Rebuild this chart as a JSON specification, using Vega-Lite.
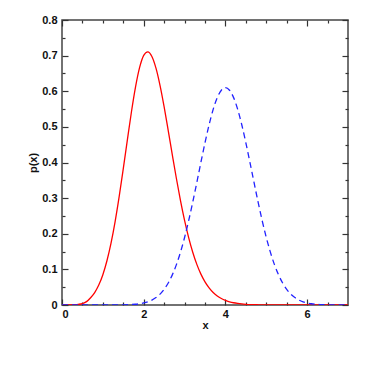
{
  "$schema": "https://vega.github.io/schema/vega-lite/v6.json",
  "width": 286,
  "height": 285,
  "autosize": "none",
  "padding": {"left": 62, "top": 20, "right": 19, "bottom": 62},
  "background": "white",
  "config": {
    "view": {"stroke": "#444", "strokeWidth": 1.5},
    "axis": {"domain": false, "grid": false, "labelFont": "Liberation Sans", "labelFontWeight": "bold", "labelFontSize": 11, "labelColor": "#111", "titleFont": "Liberation Sans", "titleFontWeight": "bold", "titleFontSize": 11, "titleColor": "#111", "tickColor": "#333", "tickWidth": 1.2}
  },
  "datasets": {
    "curves": [
      {"x": 0, "p": 0, "s": "a"}, {"x": 0.2, "p": 0.0002, "s": "a"}, {"x": 0.3, "p": 0.0007, "s": "a"}, {"x": 0.4, "p": 0.0018, "s": "a"}, {"x": 0.5, "p": 0.004, "s": "a"}, {"x": 0.6, "p": 0.0095, "s": "a"}, {"x": 0.7, "p": 0.0205, "s": "a"}, {"x": 0.8, "p": 0.035, "s": "a"}, {"x": 0.9, "p": 0.056, "s": "a"}, {"x": 1.0, "p": 0.085, "s": "a"}, {"x": 1.1, "p": 0.1242, "s": "a"}, {"x": 1.2, "p": 0.1736, "s": "a"}, {"x": 1.3, "p": 0.2341, "s": "a"}, {"x": 1.4, "p": 0.3047, "s": "a"}, {"x": 1.5, "p": 0.3827, "s": "a"}, {"x": 1.6, "p": 0.4637, "s": "a"}, {"x": 1.7, "p": 0.5424, "s": "a"}, {"x": 1.8, "p": 0.6122, "s": "a"}, {"x": 1.9, "p": 0.6668, "s": "a"}, {"x": 2.0, "p": 0.7009, "s": "a"}, {"x": 2.1, "p": 0.7108, "s": "a"}, {"x": 2.2, "p": 0.6977, "s": "a"}, {"x": 2.3, "p": 0.6648, "s": "a"}, {"x": 2.4, "p": 0.6159, "s": "a"}, {"x": 2.5, "p": 0.556, "s": "a"}, {"x": 2.6, "p": 0.4897, "s": "a"}, {"x": 2.7, "p": 0.4216, "s": "a"}, {"x": 2.8, "p": 0.3551, "s": "a"}, {"x": 2.9, "p": 0.2932, "s": "a"}, {"x": 3.0, "p": 0.2376, "s": "a"}, {"x": 3.1, "p": 0.1891, "s": "a"}, {"x": 3.2, "p": 0.148, "s": "a"}, {"x": 3.3, "p": 0.114, "s": "a"}, {"x": 3.4, "p": 0.0866, "s": "a"}, {"x": 3.5, "p": 0.0649, "s": "a"}, {"x": 3.6, "p": 0.0481, "s": "a"}, {"x": 3.7, "p": 0.0351, "s": "a"}, {"x": 3.8, "p": 0.0254, "s": "a"}, {"x": 3.9, "p": 0.0182, "s": "a"}, {"x": 4.0, "p": 0.0129, "s": "a"}, {"x": 4.1, "p": 0.0091, "s": "a"}, {"x": 4.2, "p": 0.0063, "s": "a"}, {"x": 4.3, "p": 0.0044, "s": "a"}, {"x": 4.4, "p": 0.003, "s": "a"}, {"x": 4.5, "p": 0.002, "s": "a"}, {"x": 4.6, "p": 0.0013, "s": "a"}, {"x": 4.7, "p": 0.0009, "s": "a"}, {"x": 4.8, "p": 0.0006, "s": "a"}, {"x": 4.9, "p": 0.0004, "s": "a"}, {"x": 5.0, "p": 0.0002, "s": "a"}, {"x": 5.2, "p": 0.0001, "s": "a"}, {"x": 5.4, "p": 0, "s": "a"}, {"x": 7.0, "p": 0, "s": "a"},
      {"x": 0, "p": 0, "s": "b"}, {"x": 1.0, "p": 0, "s": "b"}, {"x": 1.2, "p": 0.0001, "s": "b"}, {"x": 1.4, "p": 0.0002, "s": "b"}, {"x": 1.5, "p": 0.0004, "s": "b"}, {"x": 1.6, "p": 0.0007, "s": "b"}, {"x": 1.7, "p": 0.0013, "s": "b"}, {"x": 1.8, "p": 0.0021, "s": "b"}, {"x": 1.9, "p": 0.0035, "s": "b"}, {"x": 2.0, "p": 0.0057, "s": "b"}, {"x": 2.1, "p": 0.009, "s": "b"}, {"x": 2.2, "p": 0.0138, "s": "b"}, {"x": 2.3, "p": 0.0208, "s": "b"}, {"x": 2.4, "p": 0.0306, "s": "b"}, {"x": 2.5, "p": 0.044, "s": "b"}, {"x": 2.6, "p": 0.0617, "s": "b"}, {"x": 2.7, "p": 0.0846, "s": "b"}, {"x": 2.8, "p": 0.1133, "s": "b"}, {"x": 2.9, "p": 0.1483, "s": "b"}, {"x": 3.0, "p": 0.1895, "s": "b"}, {"x": 3.1, "p": 0.2366, "s": "b"}, {"x": 3.2, "p": 0.2887, "s": "b"}, {"x": 3.3, "p": 0.344, "s": "b"}, {"x": 3.4, "p": 0.4005, "s": "b"}, {"x": 3.5, "p": 0.4554, "s": "b"}, {"x": 3.6, "p": 0.5059, "s": "b"}, {"x": 3.7, "p": 0.5491, "s": "b"}, {"x": 3.8, "p": 0.5821, "s": "b"}, {"x": 3.9, "p": 0.6029, "s": "b"}, {"x": 4.0, "p": 0.61, "s": "b"}, {"x": 4.1, "p": 0.6029, "s": "b"}, {"x": 4.2, "p": 0.5821, "s": "b"}, {"x": 4.3, "p": 0.5491, "s": "b"}, {"x": 4.4, "p": 0.5059, "s": "b"}, {"x": 4.5, "p": 0.4554, "s": "b"}, {"x": 4.6, "p": 0.4005, "s": "b"}, {"x": 4.7, "p": 0.344, "s": "b"}, {"x": 4.8, "p": 0.2887, "s": "b"}, {"x": 4.9, "p": 0.2366, "s": "b"}, {"x": 5.0, "p": 0.1895, "s": "b"}, {"x": 5.1, "p": 0.1483, "s": "b"}, {"x": 5.2, "p": 0.1133, "s": "b"}, {"x": 5.3, "p": 0.0846, "s": "b"}, {"x": 5.4, "p": 0.0617, "s": "b"}, {"x": 5.5, "p": 0.044, "s": "b"}, {"x": 5.6, "p": 0.0306, "s": "b"}, {"x": 5.7, "p": 0.0208, "s": "b"}, {"x": 5.8, "p": 0.0138, "s": "b"}, {"x": 5.9, "p": 0.009, "s": "b"}, {"x": 6.0, "p": 0.0057, "s": "b"}, {"x": 6.1, "p": 0.0035, "s": "b"}, {"x": 6.2, "p": 0.0021, "s": "b"}, {"x": 6.3, "p": 0.0013, "s": "b"}, {"x": 6.4, "p": 0.0007, "s": "b"}, {"x": 6.5, "p": 0.0004, "s": "b"}, {"x": 6.6, "p": 0.0002, "s": "b"}, {"x": 6.8, "p": 0.0001, "s": "b"}, {"x": 7.0, "p": 0, "s": "b"}
    ]
  },
  "data": {"name": "curves"},
  "resolve": {"axis": {"x": "independent", "y": "independent"}},
  "layer": [
    {
      "transform": [{"filter": "datum.s == 'a'"}],
      "mark": {"type": "line", "color": "#ff0000", "strokeWidth": 1.3, "interpolate": "monotone", "clip": true},
      "encoding": {
        "x": {"field": "x", "type": "quantitative", "scale": {"domain": [0, 7], "nice": false, "zero": false}, "axis": {"orient": "bottom", "values": [0, 2, 4, 6], "tickSize": -6, "labelPadding": 9, "title": "x", "titlePadding": 0}},
        "y": {"field": "p", "type": "quantitative", "scale": {"domain": [0, 0.8], "nice": false}, "axis": {"orient": "left", "values": [0, 0.1, 0.2, 0.3, 0.4, 0.5, 0.6, 0.7, 0.8], "tickSize": -6, "labelPadding": 11, "labelExpr": "datum.value == 0 ? '0' : format(datum.value, '.1f')", "title": "p(x)", "titlePadding": 3}}
      }
    },
    {
      "transform": [{"filter": "datum.s == 'b'"}],
      "mark": {"type": "line", "color": "#2222ff", "strokeWidth": 1.3, "strokeDash": [6, 4], "interpolate": "monotone", "clip": true},
      "encoding": {
        "x": {"field": "x", "type": "quantitative", "axis": {"orient": "top", "values": [0, 2, 4, 6], "tickSize": -6, "labels": false, "title": null}},
        "y": {"field": "p", "type": "quantitative", "axis": {"orient": "right", "values": [0, 0.1, 0.2, 0.3, 0.4, 0.5, 0.6, 0.7, 0.8], "tickSize": -6, "labels": false, "title": null}}
      }
    },
    {
      "transform": [{"filter": "datum.s == 'b'"}],
      "mark": {"type": "line", "opacity": 0},
      "encoding": {
        "x": {"field": "x", "type": "quantitative", "axis": {"orient": "bottom", "values": [0.5, 1, 1.5, 2.5, 3, 3.5, 4.5, 5, 5.5, 6.5], "tickSize": -3, "labels": false, "title": null}},
        "y": {"field": "p", "type": "quantitative", "axis": {"orient": "left", "values": [0.05, 0.15, 0.25, 0.35, 0.45, 0.55, 0.65, 0.75], "tickSize": -3, "labels": false, "title": null}}
      }
    },
    {
      "transform": [{"filter": "datum.s == 'b'"}],
      "mark": {"type": "line", "opacity": 0},
      "encoding": {
        "x": {"field": "x", "type": "quantitative", "axis": {"orient": "top", "values": [0.5, 1, 1.5, 2.5, 3, 3.5, 4.5, 5, 5.5, 6.5], "tickSize": -3, "labels": false, "title": null}},
        "y": {"field": "p", "type": "quantitative", "axis": {"orient": "right", "values": [0.05, 0.15, 0.25, 0.35, 0.45, 0.55, 0.65, 0.75], "tickSize": -3, "labels": false, "title": null}}
      }
    }
  ]
}
